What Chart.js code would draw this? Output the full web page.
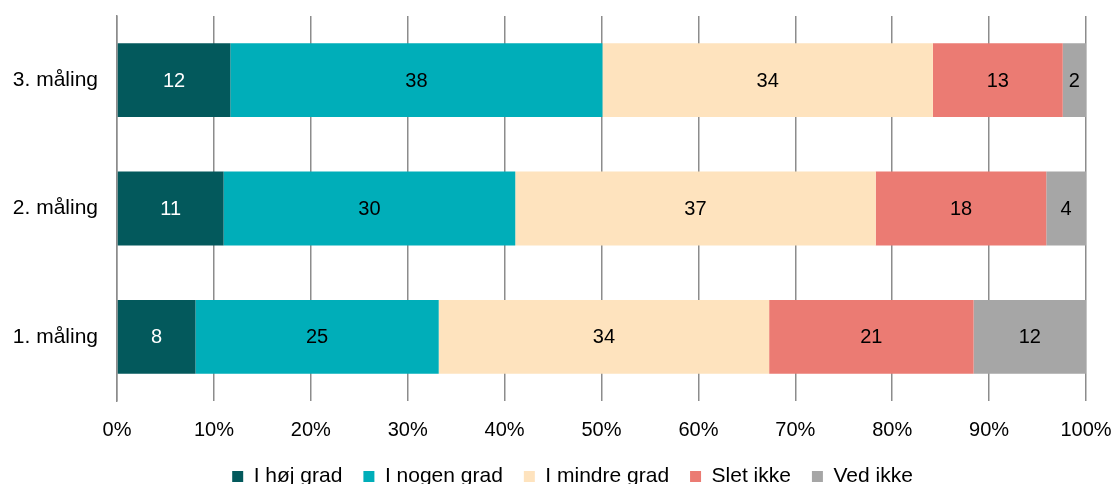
<!DOCTYPE html>
<html>
<head>
<meta charset="utf-8">
<script src="https://cdn.jsdelivr.net/npm/chart.js@4.4.1/dist/chart.umd.min.js"></script>
<style>
    html, body { margin: 0; padding: 0; overflow: hidden; background: #fff; }
</style>
</head>
<body>
<canvas id="myChart" width="1115" height="497"></canvas>
<script>
const CATEGORIES = ['3. måling', '2. måling', '1. måling'];
const SERIES_NAMES = ['I høj grad', 'I nogen grad', 'I mindre grad', 'Slet ikke', 'Ved ikke'];
const HOJ_GRAD = [11.7, 11.0, 8.1];
const NOGEN_GRAD = [38.4, 30.1, 25.1];
const MINDRE_GRAD = [34.1, 37.2, 34.1];
const SLET_IKKE = [13.4, 17.6, 21.1];
const VED_IKKE = [2.4, 4.1, 11.6];
const X_TICKS = [0, 10, 20, 30, 40, 50, 60, 70, 80, 90, 100];

const COLORS = ['#03595c', '#00aeb9', '#fee3be', '#eb7b73', '#a6a6a6'];
const LABEL_COLORS = ['#ffffff', '#000000', '#000000', '#000000', '#000000'];
const FONT = "'Liberation Sans', Arial, sans-serif";

// writes the rounded value in the middle of each bar segment
const barLabels = {
    id: 'barLabels',
    afterDatasetsDraw (chart) {
        const { ctx } = chart;
        ctx.save();
        ctx.font = '20px ' + FONT;
        ctx.textAlign = 'center';
        ctx.textBaseline = 'middle';
        chart.data.datasets.forEach((ds, i) => {
            chart.getDatasetMeta(i).data.forEach((bar, j) => {
                const { x, base, y } = bar.getProps(['x', 'base', 'y'], true);
                ctx.fillStyle = LABEL_COLORS[i];
                ctx.fillText(Math.round(ds.data[j]), (x + base) / 2, y + 1);
            });
        });
        ctx.restore();
    }
};

// nudges the legend a bit to the right, like the original
const legendShift = {
    id: 'legendShift',
    afterLayout (chart) {
        chart.legend.left += 30;
    }
};

const series = [HOJ_GRAD, NOGEN_GRAD, MINDRE_GRAD, SLET_IKKE, VED_IKKE];

new Chart(document.getElementById('myChart'), {
    type: 'bar',
    data: {
        labels: CATEGORIES,
        datasets: series.map((values, i) => ({
            label: SERIES_NAMES[i],
            data: values,
            backgroundColor: COLORS[i],
            borderWidth: 0,
            barPercentage: 1,
            categoryPercentage: 0.575
        }))
    },
    options: {
        indexAxis: 'y',
        responsive: false,
        devicePixelRatio: 1,
        animation: false,
        layout: {
            padding: { left: 0, top: 16, right: 0, bottom: 0 }
        },
        scales: {
            x: {
                stacked: true,
                min: 0,
                max: 100,
                afterBuildTicks: scale => {
                    scale.ticks = X_TICKS.map(v => ({ value: v }));
                },
                afterFit: scale => {
                    scale.height = 44;
                    scale.paddingRight = 29;
                },
                grid: {
                    color: '#8c8c8c',
                    lineWidth: 1.5,
                    drawTicks: false
                },
                border: { display: false },
                ticks: {
                    padding: 17,
                    color: '#000',
                    font: { family: FONT, size: 20 },
                    callback: value => value + '%'
                }
            },
            y: {
                stacked: true,
                afterFit: scale => {
                    scale.width = 117;
                    scale.paddingTop = 0;
                    scale.paddingBottom = 0;
                },
                grid: { display: false, drawTicks: false },
                border: { display: true, color: '#8c8c8c', width: 1.5 },
                ticks: {
                    padding: 19,
                    color: '#000',
                    font: { family: FONT, size: 21 }
                }
            }
        },
        plugins: {
            legend: {
                position: 'bottom',
                labels: {
                    boxWidth: 11,
                    boxHeight: 11,
                    padding: 21,
                    color: '#000',
                    font: { family: FONT, size: 21 }
                }
            },
            tooltip: { enabled: false }
        }
    },
    plugins: [barLabels, legendShift]
});
</script>
</body>
</html>
